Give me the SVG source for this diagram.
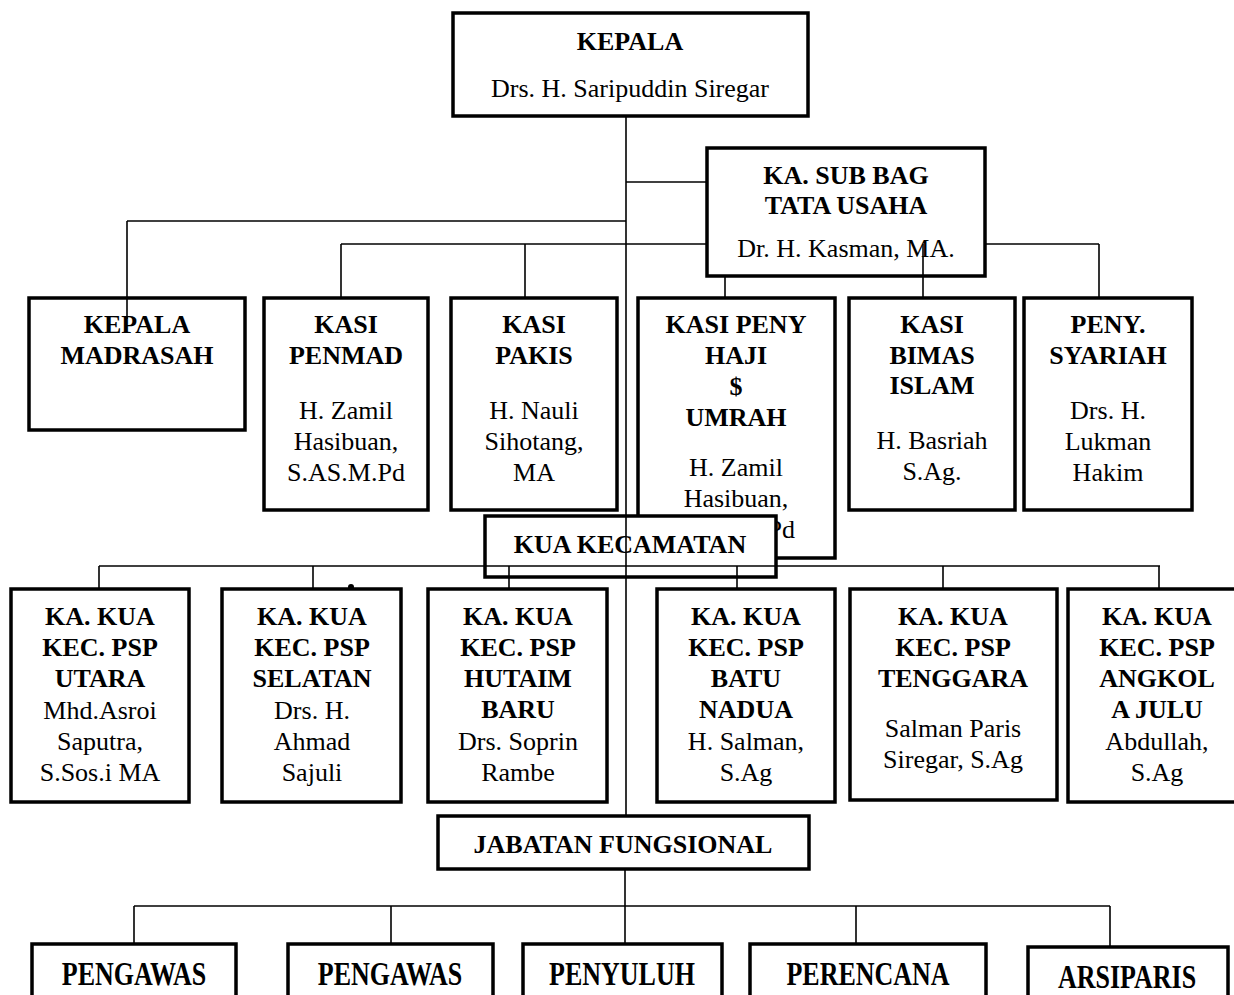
<svg xmlns="http://www.w3.org/2000/svg" width="1234" height="995" viewBox="0 0 1234 995">
<style>
rect.box{fill:#fff;stroke:#000;stroke-width:3.5}
text{font-family:"Liberation Serif","Times New Roman",serif;font-size:26px;fill:#000;text-anchor:middle}
text.b{font-weight:bold}
.con line{stroke:#000;stroke-width:1.6}
</style>
<rect width="1234" height="995" fill="#fff"/>
<g id="kepala">
<rect class="box" x="453" y="13" width="355" height="103"/>
<text class="b" x="630" y="50">KEPALA</text>
<text x="630" y="97">Drs. H. Saripuddin Siregar</text>
</g>
<g id="subbag">
<rect class="box" x="707" y="148" width="278" height="128"/>
<text class="b" x="846" y="184">KA. SUB BAG</text>
<text class="b" x="846" y="214">TATA USAHA</text>
<text x="846" y="257">Dr. H. Kasman, MA.</text>
</g>
<g id="madrasah">
<rect class="box" x="29" y="298" width="216" height="132"/>
<text class="b" x="137" y="333">KEPALA</text>
<text class="b" x="137" y="364">MADRASAH</text>
</g>
<g id="penmad">
<rect class="box" x="264" y="298" width="164" height="212"/>
<text class="b" x="346" y="333">KASI</text>
<text class="b" x="346" y="364">PENMAD</text>
<text x="346" y="419">H. Zamil</text>
<text x="346" y="450">Hasibuan,</text>
<text x="346" y="481">S.AS.M.Pd</text>
</g>
<g id="pakis">
<rect class="box" x="451" y="298" width="166" height="212"/>
<text class="b" x="534" y="333">KASI</text>
<text class="b" x="534" y="364">PAKIS</text>
<text x="534" y="419">H. Nauli</text>
<text x="534" y="450">Sihotang,</text>
<text x="534" y="481">MA</text>
</g>
<g id="haji">
<rect class="box" x="638" y="298" width="197" height="260"/>
<text class="b" x="736" y="333">KASI PENY</text>
<text class="b" x="736" y="364">HAJI</text>
<text class="b" x="736" y="395">$</text>
<text class="b" x="736" y="426">UMRAH</text>
<text x="736" y="476">H. Zamil</text>
<text x="736" y="507">Hasibuan,</text>
<text x="736" y="538">S.AS.M.Pd</text>
</g>
<g id="bimas">
<rect class="box" x="849" y="298" width="166" height="212"/>
<text class="b" x="932" y="333">KASI</text>
<text class="b" x="932" y="364">BIMAS</text>
<text class="b" x="932" y="394">ISLAM</text>
<text x="932" y="449">H. Basriah</text>
<text x="932" y="480">S.Ag.</text>
</g>
<g id="syariah">
<rect class="box" x="1024" y="298" width="168" height="212"/>
<text class="b" x="1108" y="333">PENY.</text>
<text class="b" x="1108" y="364">SYARIAH</text>
<text x="1108" y="419">Drs. H.</text>
<text x="1108" y="450">Lukman</text>
<text x="1108" y="481">Hakim</text>
</g>
<g id="kua">
<rect class="box" x="485" y="516" width="291" height="61"/>
<text class="b" x="630" y="553">KUA KECAMATAN</text>
</g>
<g id="kua-utara">
<rect class="box" x="11" y="589" width="178" height="213"/>
<text class="b" x="100" y="625">KA. KUA</text>
<text class="b" x="100" y="656">KEC. PSP</text>
<text class="b" x="100" y="687">UTARA</text>
<text x="100" y="719">Mhd.Asroi</text>
<text x="100" y="750">Saputra,</text>
<text x="100" y="781">S.Sos.i MA</text>
</g>
<g id="kua-selatan">
<rect class="box" x="222" y="589" width="179" height="213"/>
<circle cx="351" cy="587" r="3" fill="#000"/>
<text class="b" x="312" y="625">KA. KUA</text>
<text class="b" x="312" y="656">KEC. PSP</text>
<text class="b" x="312" y="687">SELATAN</text>
<text x="312" y="719">Drs. H.</text>
<text x="312" y="750">Ahmad</text>
<text x="312" y="781">Sajuli</text>
</g>
<g id="kua-hutaim">
<rect class="box" x="428" y="589" width="179" height="213"/>
<text class="b" x="518" y="625">KA. KUA</text>
<text class="b" x="518" y="656">KEC. PSP</text>
<text class="b" x="518" y="687">HUTAIM</text>
<text class="b" x="518" y="718">BARU</text>
<text x="518" y="750">Drs. Soprin</text>
<text x="518" y="781">Rambe</text>
</g>
<g id="kua-batu">
<rect class="box" x="657" y="589" width="178" height="213"/>
<text class="b" x="746" y="625">KA. KUA</text>
<text class="b" x="746" y="656">KEC. PSP</text>
<text class="b" x="746" y="687">BATU</text>
<text class="b" x="746" y="718">NADUA</text>
<text x="746" y="750">H. Salman,</text>
<text x="746" y="781">S.Ag</text>
</g>
<g id="kua-tenggara">
<rect class="box" x="850" y="589" width="207" height="211"/>
<text class="b" x="953" y="625">KA. KUA</text>
<text class="b" x="953" y="656">KEC. PSP</text>
<text class="b" x="953" y="687">TENGGARA</text>
<text x="953" y="737">Salman Paris</text>
<text x="953" y="768">Siregar, S.Ag</text>
</g>
<g id="kua-angkola">
<rect class="box" x="1068" y="589" width="180" height="213"/>
<text class="b" x="1157" y="625">KA. KUA</text>
<text class="b" x="1157" y="656">KEC. PSP</text>
<text class="b" x="1157" y="687">ANGKOL</text>
<text class="b" x="1157" y="718">A JULU</text>
<text x="1157" y="750">Abdullah,</text>
<text x="1157" y="781">S.Ag</text>
</g>
<g id="fungsional">
<rect class="box" x="438" y="816" width="371" height="53"/>
<text class="b" x="623" y="853">JABATAN FUNGSIONAL</text>
</g>
<g id="pengawas1">
<rect class="box" x="32" y="944" width="204" height="70"/>
<text class="b" transform="translate(134,985) scale(1,1.3)">PENGAWAS</text>
</g>
<g id="pengawas2">
<rect class="box" x="288" y="944" width="205" height="70"/>
<text class="b" transform="translate(390,985) scale(1,1.3)">PENGAWAS</text>
</g>
<g id="penyuluh">
<rect class="box" x="523" y="944" width="199" height="70"/>
<text class="b" transform="translate(622,985) scale(1,1.3)">PENYULUH</text>
</g>
<g id="perencana">
<rect class="box" x="750" y="944" width="236" height="70"/>
<text class="b" transform="translate(868,985) scale(1,1.3)">PERENCANA</text>
</g>
<g id="arsiparis">
<rect class="box" x="1028" y="947" width="200" height="70"/>
<text class="b" transform="translate(1127,988) scale(1,1.3)">ARSIPARIS</text>
</g>
<g class="con" id="connectors">
<line x1="626" y1="116" x2="626" y2="816"/>
<line x1="626" y1="182" x2="707" y2="182"/>
<line x1="127" y1="221" x2="626" y2="221"/>
<line x1="127" y1="221" x2="127" y2="319"/>
<line x1="341" y1="244" x2="707" y2="244"/>
<line x1="341" y1="244" x2="341" y2="298"/>
<line x1="525" y1="244" x2="525" y2="298"/>
<line x1="725" y1="276" x2="725" y2="298"/>
<line x1="985" y1="244" x2="1099" y2="244"/>
<line x1="923" y1="244" x2="923" y2="298"/>
<line x1="1099" y1="244" x2="1099" y2="298"/>
<line x1="99" y1="566" x2="1160" y2="566"/>
<line x1="99" y1="566" x2="99" y2="589"/>
<line x1="313" y1="566" x2="313" y2="589"/>
<line x1="509" y1="566" x2="509" y2="589"/>
<line x1="737" y1="566" x2="737" y2="589"/>
<line x1="943" y1="566" x2="943" y2="589"/>
<line x1="1159" y1="566" x2="1159" y2="589"/>
<line x1="625" y1="869" x2="625" y2="906"/>
<line x1="134" y1="906" x2="1110" y2="906"/>
<line x1="134" y1="906" x2="134" y2="944"/>
<line x1="391" y1="906" x2="391" y2="944"/>
<line x1="625" y1="906" x2="625" y2="944"/>
<line x1="856" y1="906" x2="856" y2="944"/>
<line x1="1110" y1="906" x2="1110" y2="947"/>
</g>
</svg>
